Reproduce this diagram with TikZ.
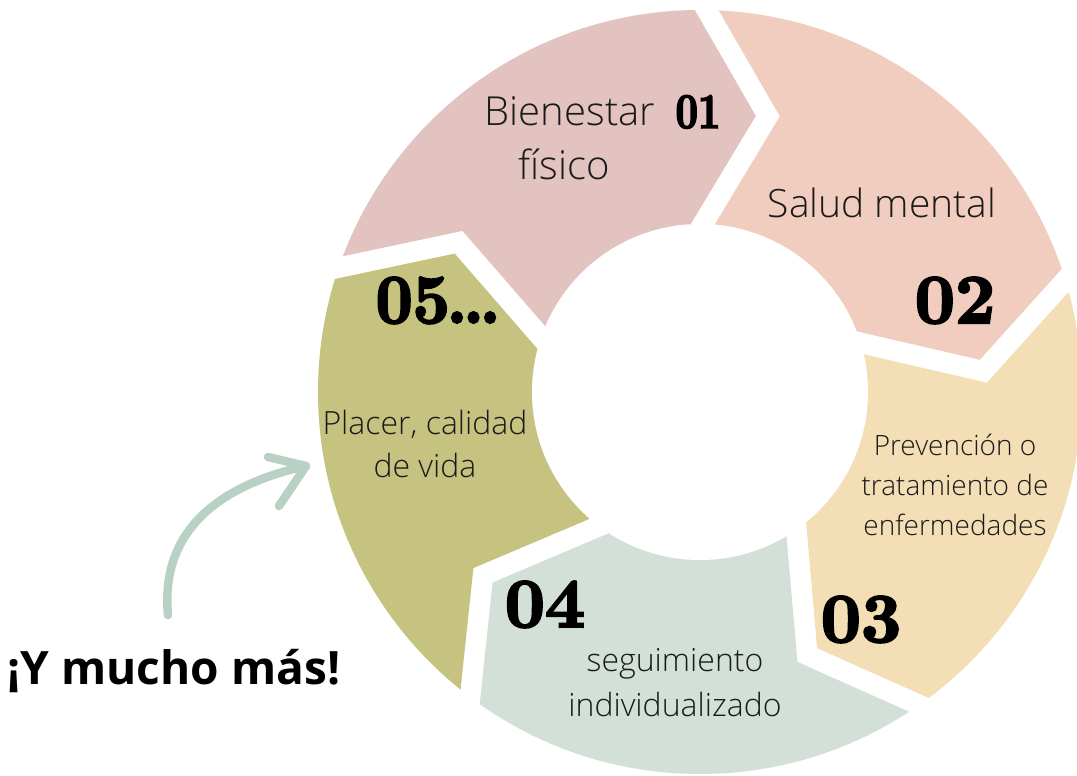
\documentclass[tikz,border=0pt]{standalone}
\usepackage{fontspec}
\usetikzlibrary{calc}
\newfontfamily\lightfont{Open Sans Light}
\newfontfamily\osans{Open Sans}
\newfontfamily\numfont{lmroman10-bold}[Extension=.otf,FakeBold=3]
\newfontfamily\numfontn{lmroman10-bold}[Extension=.otf,FakeBold=3,FakeStretch=0.78]
\newfontfamily\numfontm{lmroman10-bold}[Extension=.otf,FakeBold=3,FakeStretch=0.92]
\definecolor{cpink}{HTML}{E2C3C0}
\definecolor{csalmon}{HTML}{F0CDBE}
\definecolor{cyellow}{HTML}{F3DEB5}
\definecolor{cgreen}{HTML}{D3E0D8}
\definecolor{colive}{HTML}{C6C27F}
\definecolor{cswoosh}{HTML}{B9D1C4}
\definecolor{ctext}{HTML}{1A1A1A}
\newcommand\segfill[2]{% #1 colour, #2 front angle
  \pgfmathsetmacro\fa{#2}\pgfmathsetmacro\ba{#2+72}%
  \fill[#1] ($(C)+(\fa:764)+(\fa+90:12)$) -- ($(C)+(\fa:382)+(\fa+90:12)$)
    -- ($(C)+(\fa:277)+(\fa+90:-51)$) -- ($(C)+(\fa:168)+(\fa+90:12)$)
    -- ($(C)+(\fa+90:12)$) -- ($(C)+(\ba+90:-12)$)
    -- ($(C)+(\ba:168)+(\ba+90:-12)$) -- ($(C)+(\ba:277)+(\ba+90:-75)$)
    -- ($(C)+(\ba:382)+(\ba+90:-12)$) -- ($(C)+(\ba:764)+(\ba+90:-12)$) -- cycle;}
\tikzset{
  lbl/.style={inner sep=0pt, anchor=base, text=ctext},
  numlbl/.style={inner sep=0pt, anchor=base, text=black},
  swoosh/.style={draw=cswoosh, line width=8.5pt, line cap=round, line join=round}
}
\begin{document}
\begin{tikzpicture}[x=1pt,y=1pt]
\useasboundingbox[fill=white] (0,0) rectangle (1077,776);
\coordinate (C) at (700,384);
\begin{scope}
  \clip (C) circle (382);
  \segfill{cpink}{89}
  \segfill{csalmon}{17}
  \segfill{cyellow}{-55}
  \segfill{cgreen}{-127}
  \segfill{colive}{-199}
\end{scope}
\fill[white] (C) circle (168);
% texts
\node[lbl, font=\lightfont\fontsize{40}{48}\selectfont] (bien1) at (570,650) {Bienestar};
\node[lbl, font=\lightfont\fontsize{40}{48}\selectfont] (bien2) at (564,596) {físico};
\node[lbl, font=\lightfont\fontsize{39}{47}\selectfont] (salud) at (882,558) {Salud mental};
\node[lbl, font=\lightfont\fontsize{28}{34}\selectfont] (prev1) at (955,320) {Prevención o};
\node[lbl, font=\lightfont\fontsize{28}{34}\selectfont] (prev2) at (955,280) {tratamiento de};
\node[lbl, font=\lightfont\fontsize{28}{34}\selectfont] (prev3) at (955,240) {enfermedades};
\node[lbl, font=\lightfont\fontsize{32}{38}\selectfont] (seg1) at (675,104) {seguimiento};
\node[lbl, font=\lightfont\fontsize{32}{38}\selectfont] (seg2) at (675,59) {individualizado};
\node[lbl, font=\lightfont\fontsize{32}{38}\selectfont] (plac1) at (425,341) {Placer, calidad};
\node[lbl, font=\lightfont\fontsize{32}{38}\selectfont] (plac2) at (425,298) {de vida};
\node[lbl, font=\osans\bfseries\fontsize{46}{55}\selectfont, text=black] (mas) at (174,91) {¡Y mucho más!};
% numbers
\node[numlbl, font=\numfontn\fontsize{50}{60}\selectfont] (n1) at (698,648) {01};
\node[numlbl, font=\numfont\fontsize{70}{84}\selectfont] (n2) at (955,453) {02};
\node[numlbl, font=\numfont\fontsize{70}{84}\selectfont] (n3) at (861,134) {03};
\node[numlbl, font=\numfont\fontsize{70}{84}\selectfont] (n4) at (545,149) {04};
\node[numlbl, font=\numfontm\fontsize{70}{84}\selectfont] (n5) at (438,453) {05\kern-3pt.\kern-4pt.\kern-4pt.};
% swoosh arrow
\coordinate (a0) at (168,161);
\coordinate (a1) at (306,310);
\coordinate (h1) at (268,319);
\coordinate (h2) at (279,270);
\draw[swoosh] (a0) .. controls (160,246) and (220,291) .. (a1);
\draw[swoosh] (h1) -- (a1) -- (h2);
\end{tikzpicture}
\end{document}
